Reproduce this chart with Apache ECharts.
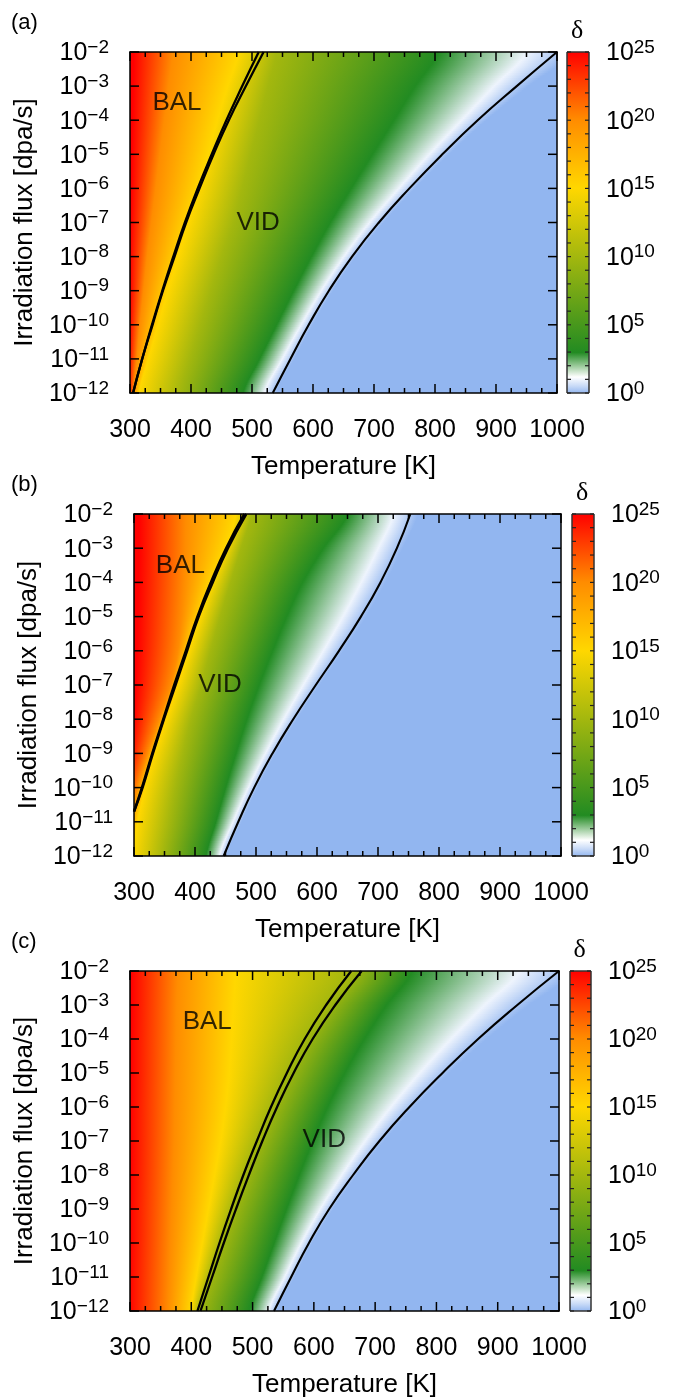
<!DOCTYPE html>
<html><head><meta charset="utf-8">
<script src="https://cdn.jsdelivr.net/npm/echarts@6/dist/echarts.min.js"></script>
<style>html,body{margin:0;padding:0;background:#fff}#c{width:676px;height:1400px}</style>
</head><body><div id="c"></div>
<script>
// ================= DATA =================
// rows: log10 of irradiation flux [dpa/s]
const fluxExp = [-12, -11, -10, -9, -8, -7, -6, -5, -4, -3, -2];
const tempTicks = [300, 400, 500, 600, 700, 800, 900, 1000];
const tempMinorStep = 25;
const deltaExpTicks = [0, 5, 10, 15, 20, 25];
// log10(delta) levels of the colour contours
const deltaLevels = [25, 20, 15, 10, 3, 1, 0];

// ---- panel (a): temperature [K] at which log10(delta) = level, per flux row
const a_T25 = [297, 298, 299, 300, 300, 301, 302, 303, 304, 305, 306];
const a_T20 = [306, 311, 316, 322, 328, 335, 342, 349, 356, 363, 370];
const a_T15 = [315, 330, 346, 362, 379, 396, 413, 428, 443, 460, 478];
const a_T10 = [382, 398, 415, 432, 450, 469, 484, 498, 512, 526, 540];
const a_T3  = [485, 512, 540, 568, 597, 628, 662, 697, 732, 767, 805];
const a_T1  = [520, 549, 580, 613, 650, 692, 740, 790, 843, 896, 950];
const a_T0  = [540, 569, 599, 632, 670, 715, 766, 822, 883, 952, 1025];
// black boundary curves (temperature per flux row)
const a_left1 = [305, 320, 336, 353, 371, 390, 411, 434, 458, 484, 511];
const a_left2 = [305, 320, 337, 354, 373, 392, 414, 437, 462, 490, 519];
const a_right = [534, 563, 593, 626, 664, 708, 758, 812, 870, 934, 1000];

// ---- panel (b)
const b_T25 = [255, 268, 282, 293, 299, 303, 305, 306, 307, 308, 308];
const b_T20 = [280, 292, 305, 322, 341, 360, 372, 378, 382, 384, 385];
const b_T15 = [298, 306, 318, 334, 353, 372, 390, 408, 428, 450, 467];
const b_T10 = [348, 358, 368, 380, 393, 410, 425, 441, 458, 475, 492];
const b_T3  = [418, 434, 450, 467, 485, 505, 527, 550, 576, 610, 650];
const b_T1  = [440, 462, 487, 515, 545, 577, 610, 642, 672, 700, 725];
const b_T0  = [452, 476, 502, 532, 567, 604, 643, 680, 712, 740, 765];
const b_leftFlux = [-10.7, -10, -9, -8, -7, -6, -5, -4, -3, -2];
const b_left1 = [300, 313, 330, 348, 366, 385, 404, 426, 451, 481];
const b_left2 = [300, 314, 331, 349, 368, 387, 406, 429, 454, 484];
const b_right = [447, 471, 497, 527, 561, 598, 636, 672, 704, 731, 753];

// ---- panel (c)
const c_T25 = [298, 298, 299, 299, 300, 300, 300, 301, 301, 302, 302];
const c_T20 = [362, 364, 366, 368, 370, 372, 373, 374, 375, 376, 378];
const c_T15 = [400, 408, 418, 428, 438, 448, 456, 462, 466, 469, 472];
const c_T10 = [413, 431, 449, 468, 488, 510, 533, 558, 587, 623, 664];
const c_T3  = [495, 515, 535, 555, 576, 598, 622, 650, 682, 718, 760];
const c_T1  = [526, 552, 579, 610, 645, 683, 725, 772, 823, 878, 935];
const c_T0  = [540, 568, 597, 631, 670, 714, 764, 820, 881, 950, 1025];
const c_left1 = [410, 428, 446, 465, 485, 507, 530, 556, 585, 620, 661];
const c_left2 = [415, 434, 453, 473, 494, 516, 540, 567, 598, 635, 678];
const c_right = [535, 563, 592, 625, 664, 707, 756, 810, 868, 932, 1000];

// region labels [T, log10 flux]
const a_labels = [['BAL', 377, -3.5], ['VID', 510, -7.0]];
const b_labels = [['BAL', 376, -3.52], ['VID', 441, -7.0]];
const c_labels = [['BAL', 426, -3.5], ['VID', 617, -6.97]];

// ================= STYLE / LAYOUT =================
const FONT = "'Liberation Sans', Arial, Helvetica, sans-serif";
const CMAP = [[0, [146, 182, 240]], [0.55, [200, 218, 247]], [1.2, [255, 255, 255]], [3, [34, 139, 34]],
              [15, [255, 215, 0]], [20, [255, 140, 0]], [25, [255, 0, 0]]];
function cmap(l) {
  l = Math.max(0, Math.min(25, l));
  for (let j = 1; j < CMAP.length; j++) {
    if (l <= CMAP[j][0]) {
      const [l0, c0] = CMAP[j - 1], [l1, c1] = CMAP[j];
      const t = (l - l0) / (l1 - l0);
      return 'rgb(' + c0.map((v, q) => Math.round(v + (c1[q] - v) * t)).join(',') + ')';
    }
  }
  return 'rgb(255,0,0)';
}
const PANELS = [
  {l: 130, t: 52, w: 427, h: 341, cbl: 567, cbw: 22, tag: '(a)',
   contours: [a_T25, a_T20, a_T15, a_T10, a_T3, a_T1, a_T0],
   lines: [[fluxExp, a_left1, 2.3], [fluxExp, a_left2, 2.3], [fluxExp, a_right, 2.1]], labels: a_labels},
  {l: 134, t: 514, w: 427, h: 342, cbl: 572, cbw: 22, tag: '(b)',
   contours: [b_T25, b_T20, b_T15, b_T10, b_T3, b_T1, b_T0],
   lines: [[b_leftFlux, b_left1, 2.5], [b_leftFlux, b_left2, 2.5], [fluxExp, b_right, 2.1]], labels: b_labels},
  {l: 130, t: 971, w: 429, h: 340, cbl: 570, cbw: 21, tag: '(c)',
   contours: [c_T25, c_T20, c_T15, c_T10, c_T3, c_T1, c_T0],
   lines: [[fluxExp, c_left1, 2.3], [fluxExp, c_left2, 2.3], [fluxExp, c_right, 2.1]], labels: c_labels}
];

function catmull(arr, i, f) {
  const p0 = arr[Math.max(i - 1, 0)], p1 = arr[i], p2 = arr[i + 1], p3 = arr[Math.min(i + 2, arr.length - 1)];
  const f2 = f * f, f3 = f2 * f;
  return 0.5 * (2 * p1 + (-p0 + p2) * f + (2 * p0 - 5 * p1 + 4 * p2 - p3) * f2 + (-p0 + 3 * p1 - 3 * p2 + p3) * f3);
}

const supRich = {
  b: {fontSize: 25, fontFamily: FONT, color: '#000', padding: [3, 0, 0, 0]},
  s: {fontSize: 19, fontFamily: FONT, color: '#000', verticalAlign: 'top', lineHeight: 19}
};

// tick positions (axis furniture, not data)
const xTickVals = [];
for (let v = tempTicks[0]; v <= tempTicks[tempTicks.length - 1]; v += tempMinorStep) xTickVals.push(v);
const cbTickVals = [];
for (let v = 0; v <= 25; v++) cbTickVals.push(v);

const grid = [], xAxis = [], yAxis = [], series = [], graphic = [];
PANELS.forEach((P, p) => {
  grid.push({left: P.l, top: P.t, width: P.w, height: P.h, containLabel: false});
  grid.push({left: P.cbl, top: P.t, width: P.cbw, height: P.h, containLabel: false});
  const g = 2 * p;
  const frame = {color: '#000', width: 1.5};
  xAxis.push({type: 'value', gridIndex: g, z: 10, min: 300, max: 1000, interval: 100, position: 'bottom',
    axisLine: {show: true, onZero: false, lineStyle: frame}, axisTick: {show: false}, splitLine: {show: false},
    axisLabel: {show: true, fontSize: 25, fontFamily: FONT, color: '#000', margin: 25,
      formatter: v => tempTicks.includes(v) ? String(v) : ''},
    name: 'Temperature [K]', nameLocation: 'middle', nameGap: 61,
    nameTextStyle: {fontSize: 26, fontFamily: FONT, color: '#000'}});
  xAxis.push({type: 'value', gridIndex: g, z: 10, min: 300, max: 1000, interval: 100, position: 'top',
    axisLine: {show: true, onZero: false, lineStyle: frame}, axisTick: {show: false},
    splitLine: {show: false}, axisLabel: {show: false}});
  xAxis.push({type: 'value', gridIndex: g + 1, min: 0, max: 1, show: false});
  yAxis.push({type: 'value', gridIndex: g, z: 10, min: -12, max: -2, interval: 1, position: 'left',
    axisLine: {show: true, onZero: false, lineStyle: frame}, axisTick: {show: false}, splitLine: {show: false},
    axisLabel: {show: true, margin: 21, formatter: v => '{b|10}{s|\u2212' + Math.round(-v) + '}', rich: supRich},
    name: 'Irradiation flux [dpa/s]', nameLocation: 'middle', nameGap: 86,
    nameTextStyle: {fontSize: 26, fontFamily: FONT, color: '#000'}});
  yAxis.push({type: 'value', gridIndex: g, z: 10, min: -12, max: -2, interval: 1, position: 'right',
    axisLine: {show: true, onZero: false, lineStyle: frame}, axisTick: {show: false},
    splitLine: {show: false}, axisLabel: {show: false}});
  yAxis.push({type: 'value', gridIndex: g + 1, min: 0, max: 25, interval: 5, position: 'left',
    axisLine: {show: false}, axisTick: {show: false}, splitLine: {show: false}, axisLabel: {show: false}});
  yAxis.push({type: 'value', gridIndex: g + 1, min: 0, max: 25, interval: 5, position: 'right',
    axisLine: {show: false}, axisTick: {show: false}, splitLine: {show: false},
    axisLabel: {show: true, margin: 17, formatter: v => deltaExpTicks.includes(v) ? '{b|10}{s|' + v + '}' : '', rich: supRich}});

  const xi = 3 * p, yi = 4 * p;
  // heat map: one item per flux band between read rows
  series.push({
    type: 'custom', xAxisIndex: xi, yAxisIndex: yi, silent: true, z: 1,
    data: fluxExp.slice(0, -1).map((e, i) => [300, e, i]),
    renderItem: (params, api) => {
      const i = api.value(2);
      const e0 = fluxExp[i], e1 = fluxExp[i + 1];
      const xL = api.coord([300, e0])[0], xR = api.coord([1000, e0])[0];
      const yTop = api.coord([300, -2])[1], yBot = api.coord([300, -12])[1];
      const gx0 = api.coord([150, e0])[0], gx1 = api.coord([1150, e0])[0];
      const N = 20, children = [];
      for (let s = 0; s < N; s++) {
        const fm = (s + 0.5) / N;
        const ya = api.coord([300, e0 + (e1 - e0) * s / N])[1];
        const yb = api.coord([300, e0 + (e1 - e0) * (s + 1) / N])[1];
        const stops = [{offset: 0, color: cmap(25)}];
        let prev = 0;
        P.contours.forEach((arr, k) => {
          const T = catmull(arr, i, fm);
          let off = (api.coord([T, e0])[0] - gx0) / (gx1 - gx0);
          off = Math.min(1, Math.max(prev, off));
          prev = off;
          stops.push({offset: off, color: cmap(deltaLevels[k])});
        });
        stops.push({offset: 1, color: cmap(0)});
        const y0 = Math.max(yTop, Math.min(ya, yb) - 0.5), y1 = Math.min(yBot, Math.max(ya, yb) + 0.5);
        children.push({type: 'rect',
          shape: {x: xL, y: y0, width: xR - xL, height: y1 - y0},
          style: {fill: {type: 'linear', x: gx0, y: 0, x2: gx1, y2: 0, global: true, colorStops: stops}}});
      }
      return {type: 'group', children};
    }
  });
  // boundary curves
  P.lines.forEach(([fl, T, w]) => {
    series.push({type: 'line', xAxisIndex: xi, yAxisIndex: yi, data: T.map((t, j) => [t, fl[j]]),
      smooth: 0.5, symbol: 'none', showSymbol: false, silent: true, z: 5, clip: true,
      lineStyle: {color: '#000', width: w}});
  });
  // region labels
  series.push({type: 'scatter', xAxisIndex: xi, yAxisIndex: yi, symbolSize: 1, z: 6, silent: true,
    itemStyle: {color: 'rgba(0,0,0,0)'},
    data: P.labels.map(([txt, t, e]) => ({value: [t, e], name: txt})),
    label: {show: true, position: 'inside', formatter: d => d.name, fontSize: 26, fontFamily: FONT, color: '#000'}});
  // colour bar
  series.push({
    type: 'custom', xAxisIndex: xi + 2, yAxisIndex: yi + 3, silent: true, z: 1,
    data: [[0, 0, 25]],
    renderItem: (params, api) => {
      const pTop = api.coord([0, api.value(2)]), pBot = api.coord([1, api.value(1)]);
      const stops = CMAP.map(([l, c]) => ({offset: 1 - l / 25, color: 'rgb(' + c.join(',') + ')'})).reverse();
      return {type: 'rect', shape: {x: pTop[0], y: pTop[1], width: pBot[0] - pTop[0], height: pBot[1] - pTop[1]},
        style: {fill: {type: 'linear', x: 0, y: 0, x2: 0, y2: 1, colorStops: stops}, stroke: '#333', lineWidth: 1}};
    }
  });
  graphic.push({type: 'text', left: 11, top: P.t - 40, style: {text: P.tag, fontSize: 22, fontFamily: FONT, fill: '#000'}});
  graphic.push({type: 'text', left: P.cbl + P.cbw / 2 - 7, top: P.t - 34, style: {text: '\u03b4', fontSize: 26, fontFamily: "'Liberation Serif', 'DejaVu Serif', serif", fill: '#000'}});
});

const chart = echarts.init(document.getElementById('c'), null, {renderer: 'canvas'});
chart.setOption({animation: false, backgroundColor: '#fff', grid, xAxis, yAxis, series, graphic});

// inward tick marks, placed with the axes' own scales (convertToPixel)
const tickEls = [];
function tk(x, y, w, h, fill) {
  tickEls.push({type: 'rect', z: 100, zlevel: 0, silent: true, shape: {x, y, width: w, height: h}, style: {fill}});
}
PANELS.forEach((P, p) => {
  const xi = 3 * p, yi = 4 * p;
  const yB = chart.convertToPixel({yAxisIndex: yi}, -12), yT = chart.convertToPixel({yAxisIndex: yi}, -2);
  const xLft = chart.convertToPixel({xAxisIndex: xi}, 300), xRgt = chart.convertToPixel({xAxisIndex: xi}, 1000);
  xTickVals.forEach(v => {
    const x = chart.convertToPixel({xAxisIndex: xi}, v);
    const len = tempTicks.includes(v) ? 9 : 5;
    tk(x - 0.75, yB - len, 1.5, len, '#000');
    tk(x - 0.75, yT, 1.5, len, '#000');
  });
  fluxExp.forEach(e => {
    const y = chart.convertToPixel({yAxisIndex: yi}, e);
    tk(xLft, y - 0.75, 9, 1.5, '#000');
    tk(xRgt - 9, y - 0.75, 9, 1.5, '#000');
  });
  const cL = chart.convertToPixel({xAxisIndex: xi + 2}, 0), cR = chart.convertToPixel({xAxisIndex: xi + 2}, 1);
  cbTickVals.forEach(v => {
    const y = chart.convertToPixel({yAxisIndex: yi + 3}, v);
    tk(cL, y - 0.6, 4, 1.2, '#222');
    tk(cR - 4, y - 0.6, 4, 1.2, '#222');
  });
});
chart.setOption({graphic: graphic.concat(tickEls)});
</script>
</body></html>
